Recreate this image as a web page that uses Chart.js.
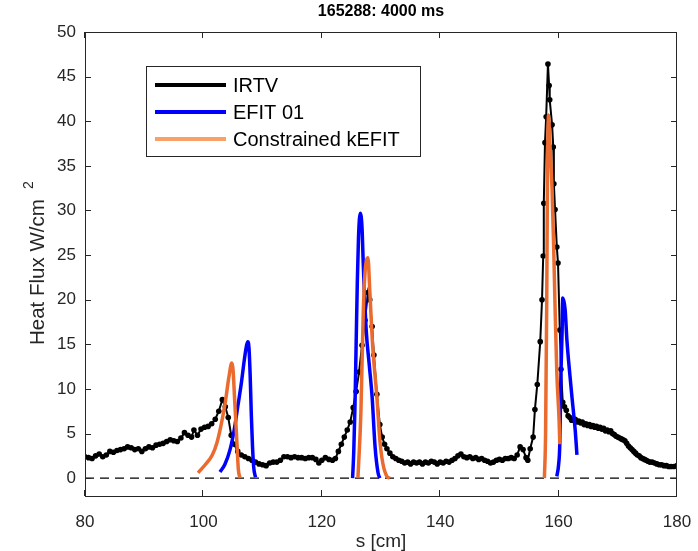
<!DOCTYPE html>
<html lang="en">
<head>
    <meta charset="UTF-8">
    <title>165288: 4000 ms</title>
    <script src="https://cdn.jsdelivr.net/npm/chart.js"></script>
    <style>
        body {
            margin: 0;
            background: #fff;
        }
    </style>
</head>
<body>
    <canvas id="fluxChart" width="698" height="551"></canvas>

    <script>
        // IRTV measurement, [s (cm), heat flux (W/cm^2)]
        const irtv = [
            [80.0, 2.4], [80.6, 2.3], [81.2, 2.2], [81.8, 2.5], [82.4, 2.7], [83.0, 2.4], [83.6, 2.6], [84.2, 3.0], [84.8, 2.9], [85.4, 3.1],
            [86.0, 3.2], [86.6, 3.3], [87.2, 3.5], [87.8, 3.4], [88.4, 3.2], [89.0, 3.3], [89.6, 3.0], [90.2, 3.3], [90.8, 3.5], [91.4, 3.4],
            [92.0, 3.7], [92.6, 3.8], [93.2, 3.9], [93.8, 4.1], [94.4, 4.3], [95.0, 4.2], [95.6, 4.1], [96.2, 4.5], [96.8, 5.1], [97.4, 4.8],
            [98.0, 4.6], [98.4, 5.4], [99.0, 4.8], [99.6, 5.5], [100.2, 5.7], [100.8, 5.8], [101.4, 6.1], [102.0, 6.6], [102.6, 7.5], [103.2, 8.8],
            [103.7, 8.0], [104.2, 6.8], [104.7, 4.8], [105.2, 3.8], [105.8, 3.0], [106.4, 2.6], [107.0, 2.4], [107.6, 2.2], [108.2, 2.0], [108.8, 1.8],
            [109.4, 1.6], [110.0, 1.5], [110.6, 1.4], [111.2, 1.7], [111.8, 1.8], [112.4, 1.8], [113.0, 2.0], [113.6, 2.4], [114.2, 2.4], [114.8, 2.3],
            [115.4, 2.4], [116.0, 2.3], [116.6, 2.3], [117.2, 2.2], [117.8, 2.3], [118.4, 2.3], [119.0, 2.1], [119.5, 1.7], [120.0, 2.0], [120.6, 2.3],
            [121.2, 2.1], [121.8, 2.0], [122.3, 2.2], [122.8, 3.0], [123.3, 3.8], [123.8, 4.6], [124.3, 5.4], [124.8, 6.3], [125.3, 7.9], [125.8, 9.7],
            [126.3, 11.9], [126.8, 14.9], [127.3, 17.7], [127.8, 20.8], [128.1, 20.0], [128.5, 17.0], [128.8, 13.8], [129.3, 9.4], [129.8, 6.0], [130.2, 4.6],
            [130.6, 3.8], [131.0, 3.3], [131.5, 2.8], [132.0, 2.4], [132.5, 2.2], [133.0, 2.0], [133.5, 1.9], [134.0, 1.7], [134.5, 1.8], [135.0, 1.6],
            [135.5, 1.8], [136.0, 1.7], [136.5, 1.8], [137.0, 1.6], [137.5, 1.8], [138.0, 1.7], [138.5, 1.9], [139.0, 1.8], [139.5, 1.6], [140.0, 1.8],
            [140.5, 1.7], [141.0, 1.9], [141.5, 1.8], [142.0, 2.0], [142.5, 2.2], [143.0, 2.5], [143.5, 2.7], [144.0, 2.4], [144.5, 2.3], [145.0, 2.4],
            [145.5, 2.2], [146.0, 2.3], [146.5, 2.1], [147.0, 2.2], [147.5, 2.0], [148.0, 1.9], [148.5, 1.7], [149.0, 1.8], [149.5, 2.0], [150.0, 2.1],
            [150.5, 2.0], [151.0, 2.2], [151.5, 2.2], [152.0, 2.3], [152.5, 2.2], [153.0, 2.6], [153.5, 3.5], [154.0, 3.2], [154.5, 2.3], [154.8, 2.0],
            [155.2, 3.3], [155.7, 4.6], [156.0, 7.7], [156.4, 10.5], [156.9, 15.3], [157.2, 20.0], [157.4, 24.9], [157.5, 30.8], [157.7, 37.6], [157.9, 40.5],
            [158.2, 46.4], [158.4, 44.0], [158.5, 42.4], [158.9, 39.6], [159.1, 37.1], [159.2, 33.0], [159.4, 30.1], [159.7, 25.9], [159.9, 24.1], [160.2, 16.6],
            [160.4, 12.2], [160.7, 8.5], [161.0, 8.0], [161.3, 7.6], [161.6, 7.0], [161.9, 6.8], [162.2, 6.5], [162.5, 6.6], [162.8, 6.6], [163.1, 6.3],
            [163.4, 6.4], [163.7, 6.2], [164.0, 6.3], [164.3, 6.0], [164.6, 6.1], [164.9, 5.9], [165.2, 6.0], [165.5, 5.8], [165.8, 5.9], [166.1, 5.7],
            [166.4, 5.8], [166.7, 5.6], [167.0, 5.7], [167.3, 5.5], [167.6, 5.6], [167.9, 5.3], [168.2, 5.4], [168.5, 5.2], [168.8, 5.3], [169.1, 5.0],
            [169.4, 4.9], [169.7, 4.7], [170.0, 4.6], [170.3, 4.5], [170.6, 4.4], [170.9, 4.3], [171.2, 4.2], [171.5, 3.9], [171.8, 3.6], [172.1, 3.4],
            [172.4, 3.2], [172.7, 3.0], [173.0, 2.8], [173.3, 2.6], [173.6, 2.5], [173.9, 2.3], [174.2, 2.2], [174.5, 2.1], [174.8, 2.0], [175.1, 1.9],
            [175.4, 1.8], [175.8, 1.8], [176.2, 1.7], [176.6, 1.6], [177.0, 1.5], [177.4, 1.5], [177.8, 1.4], [178.2, 1.4], [178.6, 1.3], [179.0, 1.3],
            [179.5, 1.3], [180.0, 1.4]
        ];

        // EFIT 01 prediction, one list per strike point
        const efitInner = [[102.8, 0.7], [103.6, 1.5], [104.5, 3.2], [105.2, 5.4], [105.8, 8.0], [106.4, 10.6], [106.9, 13.2], [107.3, 14.9],
            [107.5, 15.3], [107.7, 14.6], [107.9, 11.5], [108.1, 7.0], [108.3, 3.5], [108.5, 1.2], [108.8, 0.1]];
        const efitMid = [[125.2, 0.0], [125.4, 3.0], [125.6, 8.0], [125.8, 15.0], [126.0, 22.0], [126.2, 27.0], [126.5, 29.7], [126.8, 28.0],
            [127.0, 24.1], [127.5, 16.6], [128.0, 12.8], [128.5, 9.1], [129.0, 3.5], [129.5, 0.6], [129.8, 0.0]];
        const efitOuter = [[159.7, 0.2], [160.0, 1.5], [160.2, 3.8], [160.4, 11.8], [160.6, 16.6], [160.7, 20.2], [161.1, 18.9], [161.4, 15.5],
            [161.9, 11.6], [162.3, 8.8], [162.8, 5.4], [163.1, 2.6]];

        // Constrained kEFIT prediction
        const kefitInner = [[99.1, 0.6], [100.3, 1.5], [101.5, 2.6], [102.3, 4.0], [103.0, 6.0], [103.7, 8.5], [104.3, 11.3], [104.8, 12.9],
            [105.0, 12.2], [105.3, 8.5], [105.7, 3.5], [105.9, 1.0], [106.2, 0.0]];
        const kefitMid = [[126.1, 0.0], [126.6, 7.3], [127.0, 18.5], [127.3, 23.0], [127.8, 24.7], [128.1, 21.1], [128.6, 14.7], [129.3, 9.1],
            [129.8, 4.3], [130.3, 1.7], [131.0, 0.2], [131.5, 0.0]];
        const kefitOuter = [[157.6, 0.0], [157.8, 5.0], [158.0, 20.0], [158.1, 32.0], [158.3, 40.7], [158.5, 38.0], [158.9, 32.3], [159.2, 25.0],
            [159.4, 19.2], [159.7, 11.8], [160.1, 6.2], [160.2, 3.8]];

        const zeroLine = [[80, 0], [180, 0]];

        const xTickVals = [80, 100, 120, 140, 160, 180];
        const yTickVals = [0, 5, 10, 15, 20, 25, 30, 35, 40, 45, 50];

        const seriesNames = ['IRTV', 'EFIT 01', 'Constrained kEFIT'];

        function toPoints(pairs) {
            return pairs.map(p => ({ x: p[0], y: p[1] }));
        }

        // join segments with a gap so the line breaks between strike points
        function joinSegments(segs) {
            const out = [];
            segs.forEach((s, i) => {
                if (i > 0) out.push({ x: s[0][0] - 0.01, y: null });
                out.push(...toPoints(s));
            });
            return out;
        }

        const FONT = "'Liberation Sans', Arial, sans-serif";
        const AXIS = '#262626';

        // box, inward ticks, title, y label and legend in MATLAB style
        const matlabFrame = {
            id: 'matlabFrame',
            afterDraw(chart) {
                const ctx = chart.ctx;
                const a = chart.chartArea;
                const xs = chart.scales.x;
                const ys = chart.scales.y;
                ctx.save();
                ctx.strokeStyle = AXIS;
                ctx.lineWidth = 1;
                ctx.strokeRect(a.left + 0.5, a.top + 0.5, a.right - a.left - 1, a.bottom - a.top);
                ctx.beginPath();
                xTickVals.forEach(v => {
                    const px = Math.round(xs.getPixelForValue(v)) - 0.5;
                    ctx.moveTo(px, a.bottom); ctx.lineTo(px, a.bottom - 6);
                    ctx.moveTo(px, a.top); ctx.lineTo(px, a.top + 6);
                });
                yTickVals.forEach(v => {
                    const py = Math.round(ys.getPixelForValue(v)) + 0.5;
                    ctx.moveTo(a.left, py); ctx.lineTo(a.left + 6, py);
                    ctx.moveTo(a.right, py); ctx.lineTo(a.right - 6, py);
                });
                ctx.stroke();

                // title
                ctx.fillStyle = '#000';
                ctx.font = 'bold 16px ' + FONT;
                ctx.textAlign = 'center';
                ctx.textBaseline = 'middle';
                ctx.fillText('165288: 4000 ms', (a.left + a.right) / 2, 12);

                // y label with superscript
                ctx.fillStyle = AXIS;
                ctx.save();
                ctx.translate(38, 272);
                ctx.rotate(-Math.PI / 2);
                ctx.font = '20.5px ' + FONT;
                ctx.textAlign = 'left';
                ctx.fillText('Heat Flux W/cm', -73, 0);
                ctx.font = '14px ' + FONT;
                ctx.fillText('2', 83, -9);
                ctx.restore();

                // legend
                const lx = 146, ly = 66, lw = 274, lh = 90;
                ctx.fillStyle = '#fff';
                ctx.fillRect(lx, ly, lw, lh);
                ctx.strokeStyle = AXIS;
                ctx.lineWidth = 1;
                ctx.strokeRect(lx + 0.5, ly + 0.5, lw, lh);
                const legendColors = ['#000000', '#0000ff', '#f9a066'];
                const rows = [85, 112, 139];
                ctx.font = '20px ' + FONT;
                ctx.textAlign = 'left';
                ctx.textBaseline = 'middle';
                seriesNames.forEach((name, i) => {
                    ctx.strokeStyle = legendColors[i];
                    ctx.lineWidth = 4;
                    ctx.beginPath();
                    ctx.moveTo(155, rows[i]);
                    ctx.lineTo(226, rows[i]);
                    ctx.stroke();
                    ctx.fillStyle = '#000';
                    ctx.fillText(name, 233, rows[i] + 1);
                });
                ctx.restore();
            }
        };

        new Chart(document.getElementById('fluxChart'), {
            type: 'line',
            data: {
                datasets: [
                    {
                        label: seriesNames[2],
                        data: joinSegments([kefitInner, kefitMid, kefitOuter]),
                        borderColor: '#eb6a2e',
                        borderWidth: 3.5,
                        pointRadius: 0,
                        cubicInterpolationMode: 'monotone',
                        spanGaps: false,
                        order: 1
                    },
                    {
                        label: seriesNames[1],
                        data: joinSegments([efitInner, efitMid, efitOuter]),
                        borderColor: '#0000ff',
                        borderWidth: 3.5,
                        pointRadius: 0,
                        cubicInterpolationMode: 'monotone',
                        spanGaps: false,
                        order: 2
                    },
                    {
                        label: seriesNames[0],
                        data: toPoints(irtv),
                        borderColor: '#000000',
                        backgroundColor: '#000000',
                        borderWidth: 2,
                        pointRadius: 2.8,
                        pointBorderWidth: 0,
                        pointBackgroundColor: '#000000',
                        tension: 0,
                        order: 3
                    },
                    {
                        label: 'zero',
                        data: toPoints(zeroLine),
                        borderColor: '#000000',
                        borderWidth: 1.2,
                        borderDash: [9, 6],
                        pointRadius: 0,
                        order: 4
                    }
                ]
            },
            options: {
                responsive: false,
                animation: false,
                devicePixelRatio: 1,
                layout: { padding: { left: 0, right: 21, top: 32, bottom: 0 } },
                plugins: {
                    legend: { display: false },
                    tooltip: { enabled: false }
                },
                scales: {
                    x: {
                        type: 'linear',
                        min: 80,
                        max: 180,
                        afterBuildTicks: s => { s.ticks = xTickVals.map(v => ({ value: v })); },
                        afterFit: s => { s.height = 55; s.paddingLeft = 0; s.paddingRight = 0; },
                        grid: { display: false, drawTicks: false },
                        border: { display: false },
                        ticks: { color: AXIS, font: { family: FONT, size: 17 }, padding: 16, maxRotation: 0 },
                        title: {
                            display: true,
                            text: 's [cm]',
                            color: AXIS,
                            font: { family: FONT, size: 19 },
                            padding: { top: 0, bottom: -2 }
                        }
                    },
                    y: {
                        type: 'linear',
                        min: -2,
                        max: 50,
                        afterBuildTicks: s => { s.ticks = yTickVals.map(v => ({ value: v })); },
                        afterFit: s => { s.width = 85; s.paddingTop = 0; s.paddingBottom = 0; },
                        grid: { display: false, drawTicks: false },
                        border: { display: false },
                        ticks: { color: AXIS, font: { family: FONT, size: 17 }, padding: 9 }
                    }
                }
            },
            plugins: [matlabFrame]
        });
    </script>
</body>
</html>
